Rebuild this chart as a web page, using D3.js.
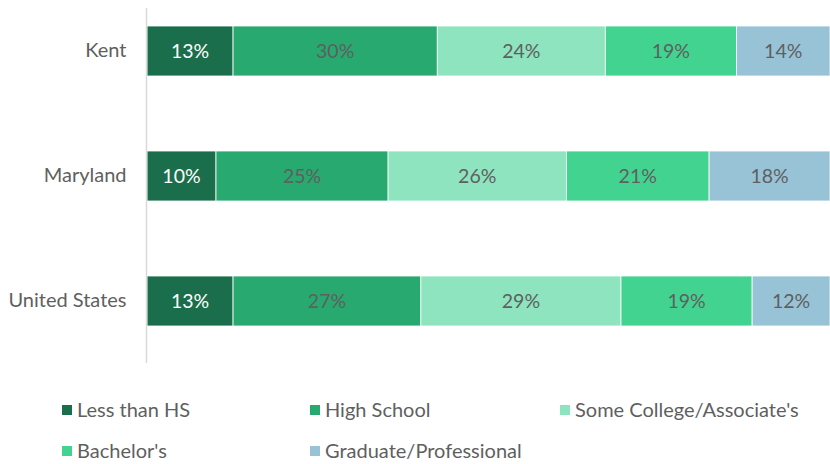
<!DOCTYPE html>
<html>
<head>
<meta charset="utf-8">
<script src="https://cdn.jsdelivr.net/npm/d3@7"></script>
<style>
  body { margin: 0; background: #fff; }
  text { font-family: Lato, "Noto Sans", sans-serif; }
</style>
</head>
<body>
<svg id="chart" width="830" height="464"></svg>
<script>
const regions = ["Kent", "Maryland", "United States"];
const levels = ["Less than HS", "High School", "Some College/Associate's", "Bachelor's", "Graduate/Professional"];
const colors = ["#1b6e4b", "#27a96f", "#8de4bf", "#42d391", "#98c3d6"];
const labelColors = ["#ffffff", "#5f5f5f", "#5f5f5f", "#5f5f5f", "#5f5f5f"];

// share of each level per region (percent)
const lessThanHS = [12.6, 10.1, 12.6];
const highSchool = [29.9, 25.2, 27.5];
const someCollege = [24.6, 26.1, 29.3];
const bachelors = [19.2, 20.9, 19.2];
const graduate = [13.7, 17.7, 11.4];
const labels = [
  ["13%", "30%", "24%", "19%", "14%"],
  ["10%", "25%", "26%", "21%", "18%"],
  ["13%", "27%", "29%", "19%", "12%"]
];

const series = [lessThanHS, highSchool, someCollege, bachelors, graduate];
const rows = regions.map((r, i) => {
  const o = { region: r };
  levels.forEach((l, j) => o[l] = series[j][i]);
  return o;
});
const stacked = d3.stack().keys(levels)(rows);

const svg = d3.select("#chart");
const margin = { top: 8, left: 147, right: 830 };
const axisBottom = 363;

const x = d3.scaleLinear().domain([0, 100]).range([margin.left, margin.right]);
const y = d3.scaleBand().domain(regions)
  .range([margin.top, margin.top + 336]).paddingInner(0.6).paddingOuter(0.144);

const layer = svg.append("g").selectAll("g")
  .data(stacked)
  .enter().append("g")
  .attr("fill", (d, i) => colors[i]);

layer.selectAll("rect")
  .data(d => d.map(p => ({ p, key: d.key, idx: d.index })))
  .enter().append("rect")
  .attr("x", d => x(d.p[0]))
  .attr("y", d => y(d.p.data.region))
  .attr("width", d => x(d.p[1]) - x(d.p[0]))
  .attr("height", y.bandwidth())
  .attr("stroke", "#fff")
  .attr("stroke-width", 0.8);

layer.selectAll("text")
  .data(d => d.map((p, i) => ({ p, idx: d.index, row: i })))
  .enter().append("text")
  .attr("x", d => (x(d.p[0]) + x(d.p[1])) / 2)
  .attr("y", d => y(d.p.data.region) + y.bandwidth() / 2)
  .attr("dy", "0.36em")
  .attr("text-anchor", "middle")
  .attr("font-size", 19.5)
  .attr("fill", d => labelColors[d.idx])
  .text(d => labels[d.row][d.idx]);

// vertical axis
const yAxis = svg.append("g")
  .attr("transform", `translate(${margin.left - 0.5},0)`)
  .call(d3.axisLeft(y).tickSize(0).tickPadding(20));
yAxis.select(".domain").attr("stroke", "#d9d9d9").attr("stroke-width", 1.5)
  .attr("d", `M0,${margin.top}V${axisBottom}`);
yAxis.selectAll("text")
  .attr("font-size", 20)
  .attr("fill", "#5f5f5f")
  .style("font-family", "Lato, 'Noto Sans', sans-serif");

// legend
const legendPos = [[62, 410], [310, 410], [560, 410], [62, 451], [310, 451]];
const legend = svg.append("g").selectAll("g")
  .data(levels)
  .enter().append("g")
  .attr("transform", (d, i) => `translate(${legendPos[i][0]},${legendPos[i][1]})`);
legend.append("rect")
  .attr("x", 0).attr("y", -5)
  .attr("width", 10).attr("height", 10)
  .attr("fill", (d, i) => colors[i]);
legend.append("text")
  .attr("x", 15).attr("y", 0).attr("dy", "0.36em")
  .attr("font-size", 20)
  .attr("fill", "#5f5f5f")
  .text(d => d);
</script>
</body>
</html>
